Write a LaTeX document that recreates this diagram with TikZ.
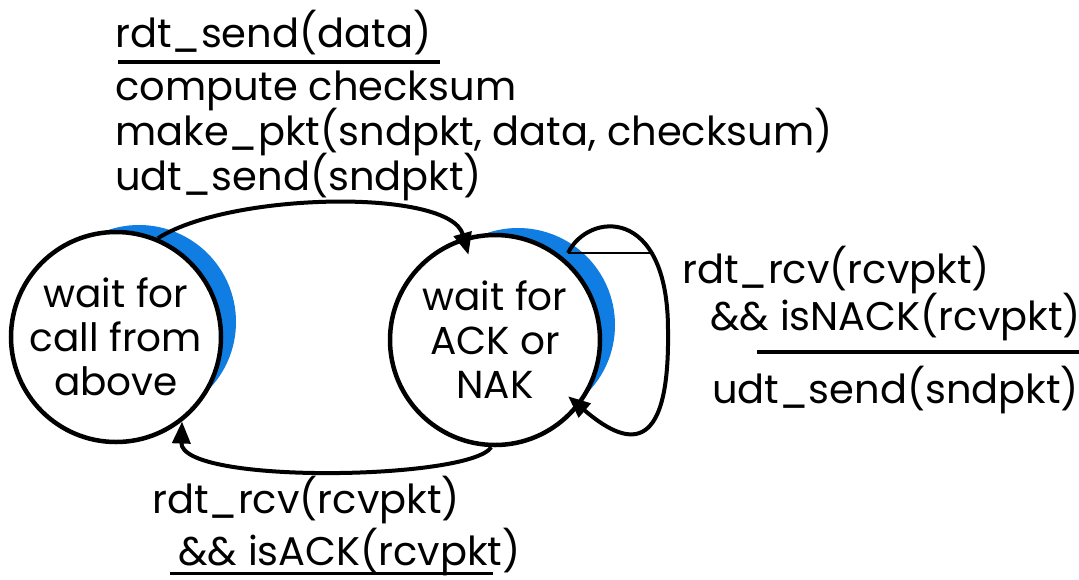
\documentclass[tikz,border=0pt]{standalone}
\usepackage{fontspec}
\setmainfont{Poppins}
\usetikzlibrary{arrows.meta}
\definecolor{shadowblue}{RGB}{15,125,225}
\begin{document}
\begin{tikzpicture}[x=1pt,y=-1pt,
  lbl/.style={anchor=base west, inner sep=0pt, font=\fontsize{40}{44}\selectfont},
  state/.style={circle, draw, line width=4.5pt, minimum size=210pt, inner sep=0pt,
    align=center, fill=white, font=\fontsize{39}{44}\selectfont},
  shade/.style={fill=shadowblue},
  arr/.style={line width=4pt, -{Triangle[length=22pt,width=18pt]}},
  rule/.style={line width=4pt},
  thin/.style={line width=2pt}]
\useasboundingbox (0,0) rectangle (1079,579);
% blue crescents
\fill[shade] (139,322) circle[radius=97pt];
\fill[shade] (518,325) circle[radius=97pt];
% states
\node[state] (L) at (116,337) {wait for\\call from\\above};
\node[state] (R) at (495,340) {wait for\\ACK or\\NAK};
% top labels
\node[lbl] (t1) at (115,47) {rdt\_send(data)};
\node[lbl] (t2) at (115,100) {compute checksum};
\node[lbl] (t3) at (115,145) {make\_pkt(sndpkt, data, checksum)};
\node[lbl] (t4) at (115,190) {udt\_send(sndpkt)};
\draw[rule] (118,62) -- (440,62);
% right labels
\node[lbl] (r1) at (682,283) {rdt\_rcv(rcvpkt)};
\node[lbl] (r2) at (710,330) {\&\& isNACK(rcvpkt)};
\node[lbl] (r3) at (712,403) {udt\_send(sndpkt)};
\draw[line width=3.5pt] (757,352) -- (1079,352);
% bottom labels
\node[lbl] (b1) at (152,513) {rdt\_rcv(rcvpkt)};
\node[lbl] (b2) at (178,565) {\&\& isACK(rcvpkt)};
\draw[line width=3pt] (170,573) -- (493,573);
% transitions
\draw[arr, shorten >=-18pt] (L.67) .. controls (230,192) and (450,188) .. (R.107);
\draw[arr] (R.-92) .. controls (470,480) and (180,485) .. (L.-52);
\coordinate (ls) at (568,253);
\coordinate (lr) at (652,253);
\draw[arr, shorten >=-15pt] (ls) .. controls (588,212) and (668,205) .. (668,330)
   .. controls (670,460) and (625,445) .. (R.-38);
\draw[thin] (ls) -- (lr);
\end{tikzpicture}
\end{document}
